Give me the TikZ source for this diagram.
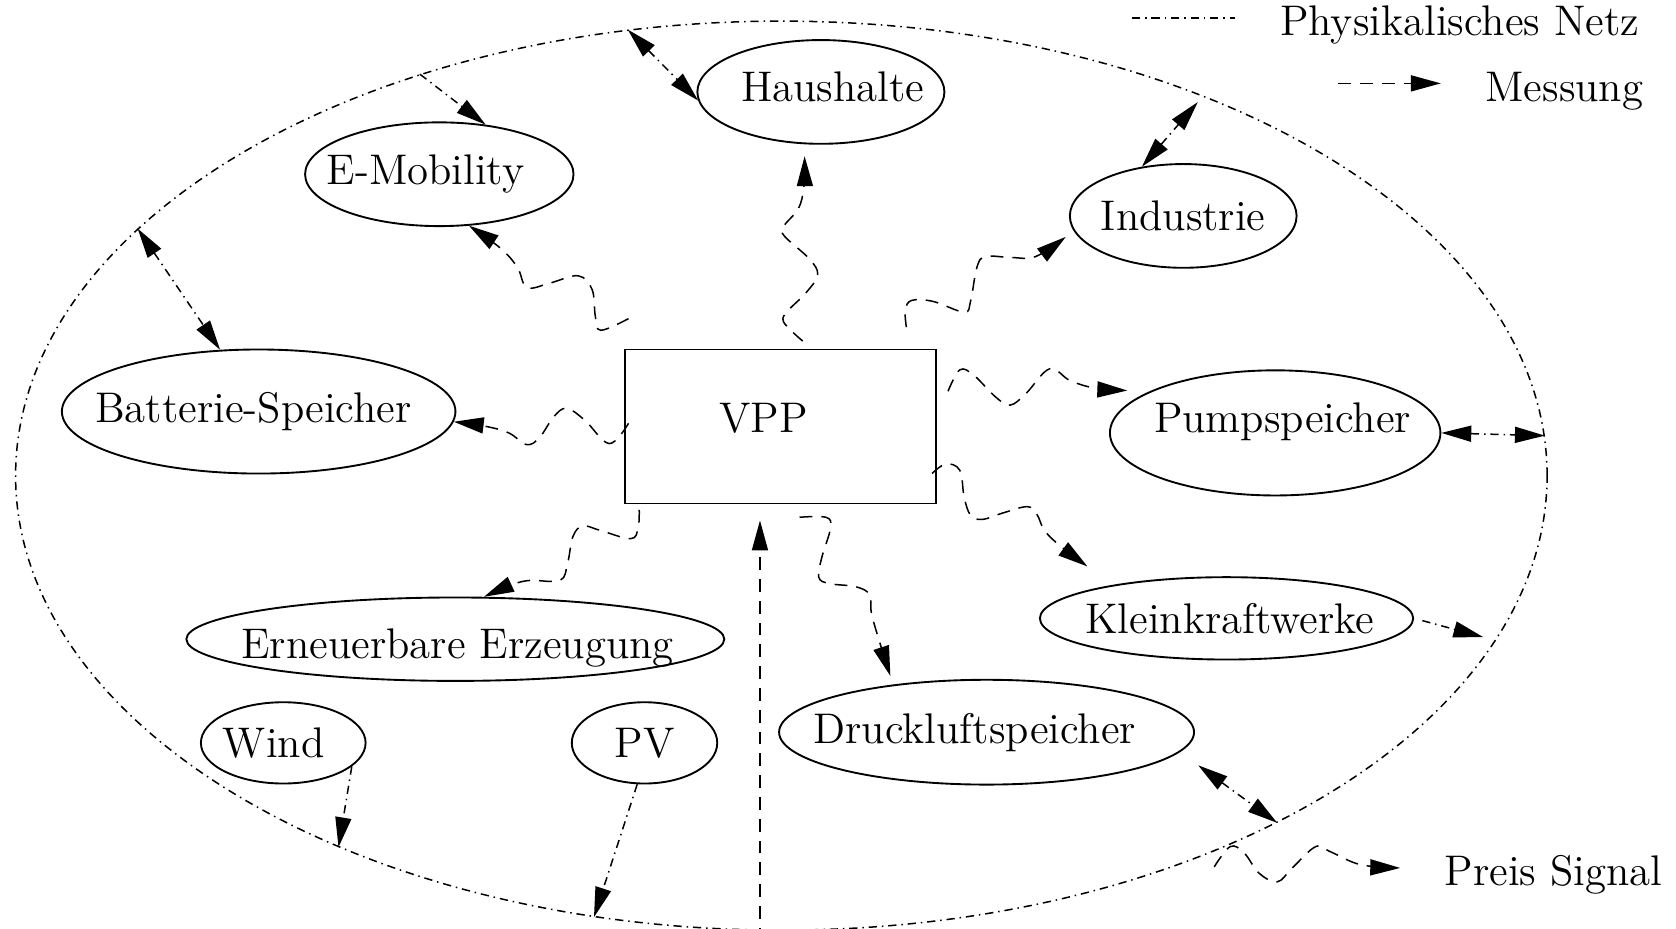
\documentclass[tikz,border=0pt]{standalone}
\usepackage{tikz}
\usetikzlibrary{arrows.meta,shapes.geometric}
\tikzset{
  ell/.style={draw, ellipse, line width=0.5pt, inner sep=0pt,
    execute at begin node={\hbox to 0pt\bgroup\hss}, execute at end node={\hss\egroup}},
  box/.style={draw, rectangle, line width=0.5pt, inner sep=0pt},
  phys/.style={line width=0.4pt, dash pattern=on 2.2pt off 1.3pt on 0.4pt off 1.3pt},
  mess/.style={line width=0.4pt, dash pattern=on 3.4pt off 2.4pt},
  lgd/.style={anchor=west, inner sep=0pt},
}

\begin{document}
\begin{tikzpicture}[x=0.01cm, y=-0.01cm, >={Triangle[length=2.8mm,width=1.5mm]},
  font=\fontsize{11.4}{13.7}\selectfont]
\useasboundingbox (0,0) rectangle (1568,869);
% physical grid
\node[ell, phys, minimum width=14.32cm, minimum height=8.5cm] (netz) at (731,445) {};
% participants
\node[ell, minimum width=2.31cm, minimum height=0.97cm] (haus) at (768,86) {\raisebox{0.5mm}[\height][\depth]{\kern2.2mm Haushalte}};
\node[ell, minimum width=2.51cm, minimum height=0.97cm] (emob) at (411,163) {E-Mobility\kern2.6mm};
\node[ell, minimum width=2.12cm, minimum height=0.97cm] (ind) at (1107,202) {Industrie};
\node[ell, minimum width=3.68cm, minimum height=1.16cm] (batt) at (242,385) {Batterie-Speicher\kern1mm};
\node[box, minimum width=2.91cm, minimum height=1.44cm] (vpp) at (730.5,399) {\raisebox{0.8mm}[\height][\depth]{VPP\kern3.2mm}};
\node[ell, minimum width=3.09cm, minimum height=1.17cm] (pump) at (1193,405) {\raisebox{1mm}[\height][\depth]{\kern1.4mm Pumpspeicher}};
\node[ell, minimum width=3.49cm, minimum height=0.77cm] (klein) at (1147.5,578.5) {\kern0.6mm Kleinkraftwerke};
\node[ell, minimum width=5.03cm, minimum height=0.78cm] (ern) at (426,598) {\raisebox{-0.8mm}[\height][\depth]{\kern0.4mm Erneuerbare Erzeugung}};
\node[ell, minimum width=3.88cm, minimum height=0.98cm] (druck) at (923,685) {Druckluftspeicher\kern2.2mm};
\node[ell, minimum width=1.54cm, minimum height=0.76cm] (wind) at (265,695) {Wind\kern1.8mm};
\node[ell, minimum width=1.36cm, minimum height=0.76cm] (pv) at (603,695) {PV};
% legend and price signal
\node[lgd] (lphys) at (1197,23) {Physikalisches Netz};
\node[lgd] (lmess) at (1389,85) {Messung};
\node[lgd] (preis) at (1351,818) {Preis Signal};
\coordinate (psrc) at (1136,811);
\coordinate (mrkt) at (711,880);
\draw[phys] ([shift={(-138,-6)}]lphys.west) -- ([shift={(-42,-6)}]lphys.west);
\draw[mess, ->] ([shift={(-137,-7)}]lmess.west) -- ([shift={(-41,-7)}]lmess.west);
% grid connections
\draw[phys, ->] (netz.132) -- (emob.47);
\draw[phys, <->] (netz.109) -- (haus.184);
\draw[phys, <->, shorten >=0.8mm] (ind.130) -- (netz.42);
\draw[phys, <->] (netz.159) -- (batt.122);
\draw[phys, <->] (pump.east) -- (netz.3);
\draw[phys, ->, shorten <=0.8mm, shorten >=1.2mm] (klein.east) -- (netz.347);
\draw[phys, <->] ([shift={(3,31)}]druck.east) -- (netz.325);
\draw[phys, ->] (wind.341) -- (netz.220);
\draw[phys, ->] (pv.260) -- (netz.247);
% measurements
\draw[mess, ->] plot[smooth, tension=0.6] coordinates {([shift={(4,-28)}]vpp.north west) (562,309) (557,296) (554,271) (541,258) (514,265) (493,269) (484,250) (468,232) (emob.300)};
\draw[mess, ->] plot[smooth, tension=0.6] coordinates {([shift={(20.5,-7)}]vpp.north) (733,301) (738,290) (754,274) (765,257) (757,242) (734,221) (733,212) (747,195) (752,175) ([shift={(-3,11)}]haus.256)};
\draw[mess, ->] plot[smooth, tension=0.6] coordinates {([shift={(-29,-20)}]vpp.north east) (847,290) (853,281) (873,282) (902,292) (908,282) (914,250) (922,240) (947,241) (969,240) ([shift={(-10,2)}]ind.190)};
\draw[mess, ->] plot[smooth, tension=0.6] coordinates {([shift={(4,-3)}]vpp.west) (570,415) (547,393) (530,382) (518,390) (505,409) (493,416) (476,405) (455,399) (batt.357)};
\draw[mess, ->] plot[smooth, tension=0.6] coordinates {([shift={(10,-33)}]vpp.east) (898,346) (911,351) (931,371) (945,379) (960,368) (982,345) (1001,356) (1024,363) ([shift={(-14,-4)}]pump.164)};
\draw[mess, ->] plot[smooth, tension=0.6] coordinates {([shift={(-5,44)}]vpp.east) (885,434) (898,440) (902,465) (908,482) (919,486) (938,480) (961,474) (970,481) (977,496) (991,510) ([shift={(-38,-15)}]klein.160)};
\draw[mess, ->] plot[smooth, tension=0.6] coordinates {([shift={(17.5,12)}]vpp.south) (773,484) (777,494) (769,521) (766,540) (776,546) (801,549) (814,557) (816,577) ([shift={(-11,-7)}]druck.150)};
\draw[mess, ->] plot[smooth, tension=0.6] coordinates {([shift={(14,5)}]vpp.south west) (597,494) (590,504) (561,496) (545,492) (536,502) (531,527) (524,543) (496,543) (479,547) (ern.56)};
\draw[mess, ->] (mrkt) -- ([shift={(-19.5,15)}]vpp.south);
\draw[mess, ->] plot[smooth, tension=0.6] coordinates {(psrc) (1151,792) (1164,798) (1178,817) (1195,825) (1209,812) (1231,792) (1245,797) (1273,809) ([shift={(-41,-6)}]preis.west)};
\end{tikzpicture}
\end{document}
